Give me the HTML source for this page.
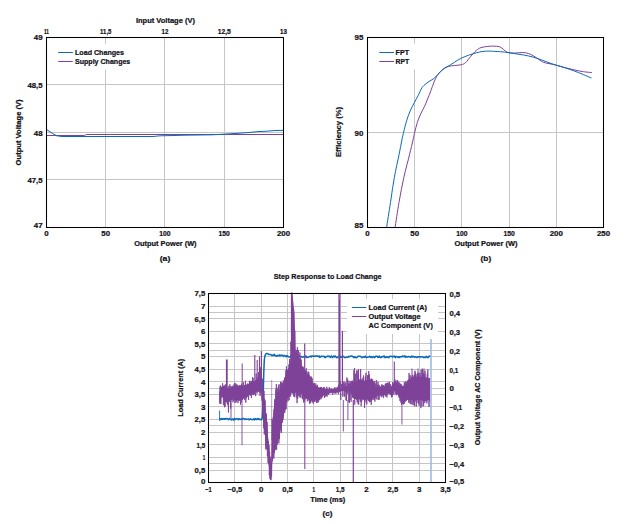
<!DOCTYPE html>
<html><head><meta charset="utf-8"><style>
html,body{margin:0;padding:0;background:#fff;width:628px;height:524px;overflow:hidden}
svg{display:block}
text{font-family:"Liberation Sans", sans-serif;font-weight:bold;fill:#111118;stroke:#111118;stroke-width:0.22px}
</style></head><body>
<svg width="628" height="524" viewBox="0 0 628 524">
<rect width="628" height="524" fill="#fff"/>
<line x1="105.50" y1="37.50" x2="105.50" y2="227.50" stroke="#c6c6ca" stroke-width="1.0"/>
<line x1="164.50" y1="37.50" x2="164.50" y2="227.50" stroke="#c6c6ca" stroke-width="1.0"/>
<line x1="224.50" y1="37.50" x2="224.50" y2="227.50" stroke="#c6c6ca" stroke-width="1.0"/>
<line x1="46.50" y1="84.50" x2="283.50" y2="84.50" stroke="#c6c6ca" stroke-width="1.0"/>
<line x1="46.50" y1="132.50" x2="283.50" y2="132.50" stroke="#c6c6ca" stroke-width="1.0"/>
<line x1="46.50" y1="179.50" x2="283.50" y2="179.50" stroke="#c6c6ca" stroke-width="1.0"/>
<rect x="52" y="43.7" width="82" height="25.8" fill="#fff"/>
<path d="M46.80 135.50 L84.30 135.50 L86.30 134.50 L283.00 134.50" fill="none" stroke="#7e4299" stroke-width="1.0" stroke-linejoin="round" />
<path d="M46.80 129.70 L52.90 133.60 L56.70 135.80 L62.00 136.50 L153.00 136.50 L160.00 135.80 L174.00 135.50 L185.00 135.20 L212.00 134.80 L220.00 134.40 L237.00 133.40 L250.00 132.40 L258.00 131.60 L267.00 131.20 L275.00 130.50 L283.00 130.40" fill="none" stroke="#0a6ab8" stroke-width="1.0" stroke-linejoin="round" />
<rect x="46.5" y="37.5" width="237.0" height="190.0" fill="none" stroke="#000" stroke-width="1.05"/>
<line x1="58.20" y1="52.50" x2="72.80" y2="52.50" stroke="#0a6ab8" stroke-width="1.0"/>
<line x1="58.20" y1="61.50" x2="72.80" y2="61.50" stroke="#7e4299" stroke-width="1.0"/>
<text x="75.00" y="55.00" font-size="7.2" text-anchor="start" textLength="49.00" lengthAdjust="spacingAndGlyphs">Load Changes</text>
<text x="75.00" y="64.00" font-size="7.2" text-anchor="start" textLength="55.30" lengthAdjust="spacingAndGlyphs">Supply Changes</text>
<text x="42.60" y="40.20" font-size="7.8" text-anchor="end" textLength="8.80" lengthAdjust="spacingAndGlyphs">49</text>
<text x="42.60" y="88.00" font-size="7.8" text-anchor="end" textLength="15.10" lengthAdjust="spacingAndGlyphs">48,5</text>
<text x="42.60" y="135.50" font-size="7.8" text-anchor="end" textLength="8.80" lengthAdjust="spacingAndGlyphs">48</text>
<text x="42.60" y="183.30" font-size="7.8" text-anchor="end" textLength="15.10" lengthAdjust="spacingAndGlyphs">47,5</text>
<text x="42.60" y="228.30" font-size="7.8" text-anchor="end" textLength="8.80" lengthAdjust="spacingAndGlyphs">47</text>
<text x="46.50" y="236.40" font-size="7.8" text-anchor="middle" textLength="4.40" lengthAdjust="spacingAndGlyphs">0</text>
<text x="105.75" y="236.40" font-size="7.8" text-anchor="middle" textLength="8.80" lengthAdjust="spacingAndGlyphs">50</text>
<text x="165.00" y="236.40" font-size="7.8" text-anchor="middle" textLength="11.30" lengthAdjust="spacingAndGlyphs">100</text>
<text x="224.25" y="236.40" font-size="7.8" text-anchor="middle" textLength="11.30" lengthAdjust="spacingAndGlyphs">150</text>
<text x="283.50" y="236.40" font-size="7.8" text-anchor="middle" textLength="13.20" lengthAdjust="spacingAndGlyphs">200</text>
<text x="46.50" y="34.40" font-size="7.8" text-anchor="middle" textLength="5.00" lengthAdjust="spacingAndGlyphs">11</text>
<text x="105.75" y="34.40" font-size="7.8" text-anchor="middle" textLength="11.30" lengthAdjust="spacingAndGlyphs">11,5</text>
<text x="165.00" y="34.40" font-size="7.8" text-anchor="middle" textLength="6.90" lengthAdjust="spacingAndGlyphs">12</text>
<text x="224.25" y="34.40" font-size="7.8" text-anchor="middle" textLength="13.20" lengthAdjust="spacingAndGlyphs">12,5</text>
<text x="283.50" y="34.40" font-size="7.8" text-anchor="middle" textLength="6.90" lengthAdjust="spacingAndGlyphs">13</text>
<text x="165.40" y="23.10" font-size="7.4" text-anchor="middle" textLength="59.00" lengthAdjust="spacingAndGlyphs">Input Voltage (V)</text>
<text x="165.40" y="246.20" font-size="7.4" text-anchor="middle" textLength="62.40" lengthAdjust="spacingAndGlyphs">Output Power (W)</text>
<text x="165.00" y="261.20" font-size="7.4" text-anchor="middle" textLength="10.60" lengthAdjust="spacingAndGlyphs">(a)</text>
<text x="20.60" y="132.40" font-size="7.4" text-anchor="middle" textLength="66.00" lengthAdjust="spacingAndGlyphs" transform="rotate(-90 20.60 132.40)">Output Voltage (V)</text>
<line x1="414.50" y1="37.50" x2="414.50" y2="227.50" stroke="#c6c6ca" stroke-width="1.0"/>
<line x1="461.50" y1="37.50" x2="461.50" y2="227.50" stroke="#c6c6ca" stroke-width="1.0"/>
<line x1="509.50" y1="37.50" x2="509.50" y2="227.50" stroke="#c6c6ca" stroke-width="1.0"/>
<line x1="556.50" y1="37.50" x2="556.50" y2="227.50" stroke="#c6c6ca" stroke-width="1.0"/>
<line x1="367.50" y1="132.50" x2="603.50" y2="132.50" stroke="#c6c6ca" stroke-width="1.0"/>
<rect x="374" y="43.6" width="48" height="25.8" fill="#fff"/>
<clipPath id="cb"><rect x="367.5" y="37.5" width="236.0" height="190.0"/></clipPath>
<g clip-path="url(#cb)">
<path d="M395.00 228.00 C395.67 223.73 397.53 210.80 399.00 202.40 C400.47 194.00 402.05 185.53 403.80 177.60 C405.55 169.67 407.97 161.07 409.50 154.80 C411.03 148.53 412.13 143.75 413.00 140.00 C413.87 136.25 413.98 135.22 414.70 132.30 C415.42 129.38 416.30 125.57 417.30 122.50 C418.30 119.43 419.48 116.62 420.70 113.90 C421.92 111.18 423.52 108.52 424.60 106.20 C425.68 103.88 426.17 102.55 427.20 100.00 C428.23 97.45 429.67 93.88 430.80 90.90 C431.93 87.92 432.93 84.65 434.00 82.10 C435.07 79.55 436.12 77.35 437.20 75.60 C438.28 73.85 439.28 72.80 440.50 71.60 C441.72 70.40 443.17 69.27 444.50 68.40 C445.83 67.53 446.87 66.88 448.50 66.40 C450.13 65.92 452.13 65.78 454.30 65.50 C456.47 65.22 459.58 65.22 461.50 64.70 C463.42 64.18 464.28 63.75 465.80 62.40 C467.32 61.05 468.85 58.60 470.60 56.60 C472.35 54.60 474.55 51.90 476.30 50.40 C478.05 48.90 479.18 48.27 481.10 47.60 C483.02 46.93 485.73 46.65 487.80 46.40 C489.87 46.15 491.50 46.03 493.50 46.10 C495.50 46.17 498.12 46.23 499.80 46.80 C501.48 47.37 502.33 48.58 503.60 49.50 C504.87 50.42 505.65 51.70 507.40 52.30 C509.15 52.90 511.55 53.07 514.10 53.10 C516.65 53.13 520.32 52.43 522.70 52.50 C525.08 52.57 526.65 52.97 528.40 53.50 C530.15 54.03 531.45 54.70 533.20 55.70 C534.95 56.70 537.15 58.38 538.90 59.50 C540.65 60.62 541.85 61.68 543.70 62.40 C545.55 63.12 547.83 63.32 550.00 63.80 C552.17 64.28 554.32 64.70 556.70 65.30 C559.08 65.90 561.43 66.65 564.30 67.40 C567.17 68.15 570.72 69.08 573.90 69.80 C577.08 70.52 580.47 71.25 583.40 71.70 C586.33 72.15 590.15 72.37 591.50 72.50" fill="none" stroke="#7e4299" stroke-width="1.0" stroke-linejoin="round" stroke-linecap="round" />
<path d="M386.50 228.00 C387.17 223.73 389.20 210.80 390.50 202.40 C391.80 194.00 392.88 185.53 394.30 177.60 C395.72 169.67 397.73 161.07 399.00 154.80 C400.27 148.53 401.13 143.75 401.90 140.00 C402.67 136.25 402.82 135.50 403.60 132.30 C404.38 129.10 405.53 124.30 406.60 120.80 C407.67 117.30 408.72 114.32 410.00 111.30 C411.28 108.28 412.92 105.38 414.30 102.70 C415.68 100.02 417.02 97.70 418.30 95.20 C419.58 92.70 420.72 89.62 422.00 87.70 C423.28 85.78 424.67 84.83 426.00 83.70 C427.33 82.57 428.67 81.78 430.00 80.90 C431.33 80.02 432.67 79.48 434.00 78.40 C435.33 77.32 436.65 75.80 438.00 74.40 C439.35 73.00 440.75 71.20 442.10 70.00 C443.45 68.80 444.78 68.00 446.10 67.20 C447.42 66.40 448.63 66.02 450.00 65.20 C451.37 64.38 452.38 63.48 454.30 62.30 C456.22 61.12 459.10 59.28 461.50 58.10 C463.90 56.92 466.23 56.08 468.70 55.20 C471.17 54.32 473.92 53.43 476.30 52.80 C478.68 52.17 480.77 51.68 483.00 51.40 C485.23 51.12 487.70 51.10 489.70 51.10 C491.70 51.10 492.52 51.23 495.00 51.40 C497.48 51.57 501.42 51.75 504.60 52.10 C507.78 52.45 510.92 53.02 514.10 53.50 C517.28 53.98 520.52 54.40 523.70 55.00 C526.88 55.60 530.02 56.20 533.20 57.10 C536.38 58.00 540.00 59.40 542.80 60.40 C545.60 61.40 547.68 62.28 550.00 63.10 C552.32 63.92 554.32 64.55 556.70 65.30 C559.08 66.05 561.43 66.68 564.30 67.60 C567.17 68.52 570.72 69.63 573.90 70.80 C577.08 71.97 580.53 73.42 583.40 74.60 C586.27 75.78 589.82 77.35 591.10 77.90" fill="none" stroke="#0a6ab8" stroke-width="1.0" stroke-linejoin="round" stroke-linecap="round" />
</g>
<rect x="367.5" y="37.5" width="236.0" height="190.0" fill="none" stroke="#000" stroke-width="1.05"/>
<line x1="379.30" y1="52.50" x2="394.00" y2="52.50" stroke="#0a6ab8" stroke-width="1.0"/>
<line x1="379.30" y1="61.50" x2="394.00" y2="61.50" stroke="#7e4299" stroke-width="1.0"/>
<text x="395.60" y="55.10" font-size="7.2" text-anchor="start" textLength="13.40" lengthAdjust="spacingAndGlyphs">FPT</text>
<text x="395.60" y="63.80" font-size="7.2" text-anchor="start" textLength="13.70" lengthAdjust="spacingAndGlyphs">RPT</text>
<text x="363.40" y="40.20" font-size="7.8" text-anchor="end" textLength="8.80" lengthAdjust="spacingAndGlyphs">95</text>
<text x="363.40" y="135.70" font-size="7.8" text-anchor="end" textLength="8.80" lengthAdjust="spacingAndGlyphs">90</text>
<text x="363.40" y="228.30" font-size="7.8" text-anchor="end" textLength="8.80" lengthAdjust="spacingAndGlyphs">85</text>
<text x="367.50" y="236.40" font-size="7.8" text-anchor="middle" textLength="4.40" lengthAdjust="spacingAndGlyphs">0</text>
<text x="414.70" y="236.40" font-size="7.8" text-anchor="middle" textLength="8.80" lengthAdjust="spacingAndGlyphs">50</text>
<text x="461.90" y="236.40" font-size="7.8" text-anchor="middle" textLength="11.30" lengthAdjust="spacingAndGlyphs">100</text>
<text x="509.10" y="236.40" font-size="7.8" text-anchor="middle" textLength="11.30" lengthAdjust="spacingAndGlyphs">150</text>
<text x="556.30" y="236.40" font-size="7.8" text-anchor="middle" textLength="13.20" lengthAdjust="spacingAndGlyphs">200</text>
<text x="603.50" y="236.40" font-size="7.8" text-anchor="middle" textLength="13.20" lengthAdjust="spacingAndGlyphs">250</text>
<text x="486.00" y="246.20" font-size="7.4" text-anchor="middle" textLength="62.90" lengthAdjust="spacingAndGlyphs">Output Power (W)</text>
<text x="485.90" y="261.20" font-size="7.4" text-anchor="middle" textLength="10.60" lengthAdjust="spacingAndGlyphs">(b)</text>
<text x="341.30" y="132.00" font-size="7.4" text-anchor="middle" textLength="50.00" lengthAdjust="spacingAndGlyphs" transform="rotate(-90 341.30 132.00)">Efficiency (%)</text>
<line x1="234.50" y1="293.50" x2="234.50" y2="482.50" stroke="#c6c6ca" stroke-width="1.0"/>
<line x1="261.50" y1="293.50" x2="261.50" y2="482.50" stroke="#c6c6ca" stroke-width="1.0"/>
<line x1="287.50" y1="293.50" x2="287.50" y2="482.50" stroke="#c6c6ca" stroke-width="1.0"/>
<line x1="313.50" y1="293.50" x2="313.50" y2="482.50" stroke="#c6c6ca" stroke-width="1.0"/>
<line x1="340.50" y1="293.50" x2="340.50" y2="482.50" stroke="#c6c6ca" stroke-width="1.0"/>
<line x1="366.50" y1="293.50" x2="366.50" y2="482.50" stroke="#c6c6ca" stroke-width="1.0"/>
<line x1="392.50" y1="293.50" x2="392.50" y2="482.50" stroke="#c6c6ca" stroke-width="1.0"/>
<line x1="419.50" y1="293.50" x2="419.50" y2="482.50" stroke="#c6c6ca" stroke-width="1.0"/>
<line x1="208.50" y1="470.50" x2="445.50" y2="470.50" stroke="#c6c6ca" stroke-width="1.0"/>
<line x1="208.50" y1="457.50" x2="445.50" y2="457.50" stroke="#c6c6ca" stroke-width="1.0"/>
<line x1="208.50" y1="444.50" x2="445.50" y2="444.50" stroke="#c6c6ca" stroke-width="1.0"/>
<line x1="208.50" y1="432.50" x2="445.50" y2="432.50" stroke="#c6c6ca" stroke-width="1.0"/>
<line x1="208.50" y1="419.50" x2="445.50" y2="419.50" stroke="#c6c6ca" stroke-width="1.0"/>
<line x1="208.50" y1="406.50" x2="445.50" y2="406.50" stroke="#c6c6ca" stroke-width="1.0"/>
<line x1="208.50" y1="394.50" x2="445.50" y2="394.50" stroke="#c6c6ca" stroke-width="1.0"/>
<line x1="208.50" y1="381.50" x2="445.50" y2="381.50" stroke="#c6c6ca" stroke-width="1.0"/>
<line x1="208.50" y1="369.50" x2="445.50" y2="369.50" stroke="#c6c6ca" stroke-width="1.0"/>
<line x1="208.50" y1="356.50" x2="445.50" y2="356.50" stroke="#c6c6ca" stroke-width="1.0"/>
<line x1="208.50" y1="343.50" x2="445.50" y2="343.50" stroke="#c6c6ca" stroke-width="1.0"/>
<line x1="208.50" y1="331.50" x2="445.50" y2="331.50" stroke="#c6c6ca" stroke-width="1.0"/>
<line x1="208.50" y1="318.50" x2="445.50" y2="318.50" stroke="#c6c6ca" stroke-width="1.0"/>
<line x1="208.50" y1="306.50" x2="445.50" y2="306.50" stroke="#c6c6ca" stroke-width="1.0"/>
<line x1="208.50" y1="463.50" x2="445.50" y2="463.50" stroke="#c6c6ca" stroke-width="1.0"/>
<line x1="208.50" y1="444.50" x2="445.50" y2="444.50" stroke="#c6c6ca" stroke-width="1.0"/>
<line x1="208.50" y1="425.50" x2="445.50" y2="425.50" stroke="#c6c6ca" stroke-width="1.0"/>
<line x1="208.50" y1="406.50" x2="445.50" y2="406.50" stroke="#c6c6ca" stroke-width="1.0"/>
<line x1="208.50" y1="388.50" x2="445.50" y2="388.50" stroke="#c6c6ca" stroke-width="1.0"/>
<line x1="208.50" y1="369.50" x2="445.50" y2="369.50" stroke="#c6c6ca" stroke-width="1.0"/>
<line x1="208.50" y1="350.50" x2="445.50" y2="350.50" stroke="#c6c6ca" stroke-width="1.0"/>
<line x1="208.50" y1="331.50" x2="445.50" y2="331.50" stroke="#c6c6ca" stroke-width="1.0"/>
<line x1="208.50" y1="312.50" x2="445.50" y2="312.50" stroke="#c6c6ca" stroke-width="1.0"/>
<rect x="347" y="299" width="91" height="35" fill="#fff"/>
<path d="M219.50 418.92 L220.20 418.64 L220.90 419.44 L221.60 418.52 L222.30 419.26 L223.00 418.99 L223.70 418.49 L224.40 419.21 L225.10 418.46 L225.80 419.09 L226.50 418.51 L227.20 418.55 L227.90 419.08 L228.60 419.72 L229.30 418.60 L230.00 418.76 L230.70 419.40 L231.40 419.92 L232.10 419.32 L232.80 419.03 L233.50 419.96 L234.20 418.47 L234.90 419.77 L235.60 418.86 L236.30 418.63 L237.00 418.59 L237.70 418.89 L238.40 419.71 L239.10 418.69 L239.80 419.33 L240.50 419.42 L241.20 419.00 L241.90 419.28 L242.60 418.50 L243.30 418.50 L244.00 418.73 L244.70 419.49 L245.40 419.08 L246.10 418.90 L246.80 419.34 L247.50 419.13 L248.20 418.88 L248.90 419.67 L249.60 419.52 L250.30 418.79 L251.00 419.32 L251.70 419.24 L252.40 419.80 L253.10 419.57 L253.80 418.86 L254.50 419.97 L255.20 418.59 L255.90 419.07 L256.60 419.61 L257.30 418.64 L258.00 419.18 L258.70 418.46 L259.40 419.47 L260.10 419.62 L260.80 419.32 L261.50 419.80 L262.20 418.50 L262.80 410.00 L263.30 390.00 L263.80 372.00 L264.30 360.00 L265.00 355.50 L266.00 353.80 L267.00 353.40 L268.00 353.68 L268.70 354.53 L269.40 354.49 L270.10 354.61 L270.80 354.52 L271.50 355.33 L272.20 355.64 L272.90 354.90 L273.60 355.35 L274.30 354.36 L275.00 355.61 L275.70 355.60 L276.40 356.31 L277.10 356.08 L277.80 355.18 L278.50 355.43 L279.20 356.01 L279.90 354.91 L280.60 355.76 L281.30 355.28 L282.00 355.24 L282.70 355.19 L283.40 356.51 L284.10 355.41 L284.80 355.66 L285.50 355.96 L286.20 356.86 L286.90 355.47 L287.60 356.16 L288.30 356.38 L289.00 357.01 L289.70 356.92 L290.40 357.02 L291.10 356.00 L291.80 356.26 L292.50 356.18 L293.20 357.15 L293.90 357.30 L294.60 355.87 L295.30 355.93 L296.00 356.05 L296.70 356.07 L297.40 356.53 L298.10 356.73 L298.80 356.16 L299.50 355.71 L300.20 356.46 L300.90 356.39 L301.60 356.75 L302.30 357.46 L303.00 356.99 L303.70 356.69 L304.40 356.88 L305.10 356.99 L305.80 355.88 L306.50 357.41 L307.20 357.20 L307.90 357.37 L308.60 357.24 L309.30 356.52 L310.00 356.53 L310.70 356.01 L311.40 356.97 L312.10 355.94 L312.80 355.95 L313.50 356.21 L314.20 356.13 L314.90 356.46 L315.60 355.94 L316.30 355.85 L317.00 356.13 L317.70 356.04 L318.40 356.51 L319.10 355.91 L319.80 357.44 L320.50 356.97 L321.20 356.13 L321.90 356.32 L322.60 356.50 L323.30 356.53 L324.00 356.09 L324.70 357.40 L325.40 357.66 L326.10 356.72 L326.80 356.75 L327.50 356.04 L328.20 356.07 L328.90 356.50 L329.60 356.36 L330.30 357.38 L331.00 356.18 L331.70 355.93 L332.40 357.60 L333.10 356.84 L333.80 356.15 L334.50 356.87 L335.20 355.94 L335.90 356.84 L336.60 357.65 L337.30 357.45 L338.00 357.15 L338.70 356.36 L339.40 356.55 L340.10 356.19 L340.80 357.28 L341.50 356.85 L342.20 357.30 L342.90 356.49 L343.60 356.30 L344.30 357.36 L345.00 357.67 L345.70 357.43 L346.40 357.35 L347.10 357.37 L347.80 357.23 L348.50 356.30 L349.20 356.83 L349.90 356.54 L350.60 355.95 L351.30 355.95 L352.00 356.40 L352.70 356.36 L353.40 357.14 L354.10 357.62 L354.80 356.70 L355.50 357.58 L356.20 357.68 L356.90 357.62 L357.60 356.55 L358.30 356.30 L359.00 356.31 L359.70 356.25 L360.40 356.27 L361.10 357.02 L361.80 357.52 L362.50 357.41 L363.20 356.76 L363.90 357.07 L364.60 357.34 L365.30 356.05 L366.00 357.09 L366.70 357.54 L367.40 357.31 L368.10 357.25 L368.80 356.76 L369.50 356.22 L370.20 357.32 L370.90 356.50 L371.60 357.34 L372.30 357.65 L373.00 356.61 L373.70 356.62 L374.40 357.60 L375.10 357.20 L375.80 356.21 L376.50 356.13 L377.20 356.17 L377.90 357.53 L378.60 357.35 L379.30 356.16 L380.00 357.39 L380.70 357.66 L381.40 357.08 L382.10 356.53 L382.80 356.89 L383.50 356.14 L384.20 355.93 L384.90 357.65 L385.60 357.07 L386.30 356.85 L387.00 357.58 L387.70 356.68 L388.40 357.47 L389.10 357.39 L389.80 356.28 L390.50 356.35 L391.20 356.43 L391.90 356.33 L392.60 356.96 L393.30 356.37 L394.00 356.65 L394.70 356.14 L395.40 357.54 L396.10 356.54 L396.80 356.72 L397.50 356.95 L398.20 357.53 L398.90 356.66 L399.60 357.55 L400.30 356.80 L401.00 356.86 L401.70 356.84 L402.40 355.93 L403.10 356.69 L403.80 356.23 L404.50 355.91 L405.20 357.34 L405.90 356.21 L406.60 356.75 L407.30 357.21 L408.00 356.90 L408.70 356.49 L409.40 356.83 L410.10 356.90 L410.80 357.31 L411.50 356.09 L412.20 356.91 L412.90 356.35 L413.60 356.40 L414.30 357.29 L415.00 356.81 L415.70 356.91 L416.40 357.27 L417.10 357.54 L417.80 356.70 L418.50 357.00 L419.20 356.81 L419.90 356.82 L420.60 357.15 L421.30 356.71 L422.00 356.86 L422.70 356.76 L423.40 357.59 L424.10 357.16 L424.80 357.48 L425.50 357.60 L426.20 356.37 L426.90 356.91 L427.60 357.60 L428.30 357.41 L429.00 356.15 L429.70 356.12 L430.40 356.70" fill="none" stroke="#0a6ab8" stroke-width="1.5" stroke-linejoin="round" />
<line x1="219.60" y1="410.50" x2="219.60" y2="421.00" stroke="#0a6ab8" stroke-width="0.9"/>
<path d="M219.50 391.37 L219.78 403.46 L220.06 386.36 L220.34 403.72 L220.62 385.54 L220.90 403.79 L221.18 386.99 L221.46 396.97 L221.74 387.25 L222.02 396.10 L222.30 388.66 L222.58 383.28 L222.86 395.16 L223.14 388.99 L223.42 405.18 L223.70 385.70 L223.98 400.06 L224.26 385.71 L224.54 407.29 L224.82 385.72 L225.10 406.54 L225.38 384.33 L225.66 401.78 L225.94 389.43 L226.22 401.32 L226.50 386.73 L226.78 401.83 L227.06 392.91 L227.34 403.97 L227.62 387.90 L227.90 405.21 L228.18 388.17 L228.46 412.60 L228.74 385.90 L229.02 399.70 L229.30 387.50 L229.58 398.79 L229.86 384.28 L230.14 400.47 L230.42 388.28 L230.70 408.61 L230.98 386.09 L231.26 395.41 L231.54 386.76 L231.82 396.00 L232.10 387.99 L232.38 398.49 L232.66 385.77 L232.94 402.27 L233.22 399.39 L233.50 400.61 L233.78 385.60 L234.06 384.31 L234.34 399.97 L234.62 382.75 L234.90 402.89 L235.18 386.21 L235.46 399.30 L235.74 383.42 L236.02 402.59 L236.30 384.68 L236.58 401.28 L236.86 384.89 L237.14 398.53 L237.42 384.75 L237.70 385.72 L237.98 403.11 L238.26 387.85 L238.54 401.02 L238.82 389.81 L239.10 400.71 L239.38 385.55 L239.66 400.45 L239.94 385.11 L240.22 387.66 L240.50 404.67 L240.78 387.38 L241.06 385.34 L241.34 402.44 L241.62 383.58 L241.90 385.78 L242.18 389.31 L242.46 399.96 L242.74 386.38 L243.02 396.81 L243.30 385.52 L243.58 382.16 L243.86 398.18 L244.14 398.98 L244.42 388.40 L244.70 400.11 L244.98 396.32 L245.26 385.48 L245.54 380.75 L245.82 402.65 L246.10 385.93 L246.38 398.24 L246.66 387.52 L246.94 384.68 L247.22 396.98 L247.50 396.41 L247.78 383.43 L248.06 393.87 L248.34 394.98 L248.62 399.92 L248.90 386.05 L249.18 393.37 L249.46 380.79 L249.74 394.78 L250.02 383.21 L250.30 395.77 L250.58 381.25 L250.86 383.53 L251.14 394.05 L251.42 397.93 L251.70 381.50 L251.98 380.76 L252.26 394.92 L252.54 377.10 L252.82 390.79 L253.10 378.02 L253.38 395.09 L253.66 383.00 L253.94 393.72 L254.22 382.57 L254.50 394.44 L254.78 380.53 L255.06 391.05 L255.34 381.30 L255.62 396.14 L255.90 391.15 L256.18 373.57 L256.46 391.27 L256.74 379.76 L257.02 393.45 L257.30 379.00 L257.58 392.08 L257.86 378.92 L258.14 377.23 L258.42 391.73 L258.70 371.95 L258.98 390.25 L259.26 373.43 L259.54 392.56 L259.82 381.43 L260.10 396.07 L260.38 367.24 L260.66 393.28 L260.94 376.65 L261.22 391.42 L261.50 378.42 L261.78 398.36 L262.06 400.79 L262.34 378.63 L262.62 410.32 L262.90 413.45 L263.18 417.39 L263.46 397.86 L263.74 428.35 L264.02 390.80 L264.30 434.43 L264.58 398.90 L264.86 422.11 L265.14 400.50 L265.42 412.00 L265.70 449.31 L265.98 414.32 L266.26 445.02 L266.54 413.60 L266.82 449.29 L267.10 421.91 L267.38 456.24 L267.66 438.90 L267.94 461.93 L268.22 463.15 L268.50 441.43 L268.78 464.26 L269.06 445.10 L269.34 475.44 L269.62 451.78 L269.90 478.82 L270.18 460.17 L270.46 479.71 L270.74 456.64 L271.02 480.13 L271.30 462.97 L271.58 476.56 L271.86 462.05 L272.14 418.67 L272.42 461.29 L272.70 455.81 L272.98 420.93 L273.26 452.95 L273.54 416.84 L273.82 458.57 L274.10 409.32 L274.38 449.58 L274.66 399.23 L274.94 449.36 L275.22 409.23 L275.50 449.31 L275.78 389.46 L276.06 445.75 L276.34 384.07 L276.62 449.78 L276.90 387.38 L277.18 444.70 L277.46 435.79 L277.74 388.79 L278.02 390.13 L278.30 432.78 L278.58 384.63 L278.86 443.48 L279.14 428.61 L279.42 439.09 L279.70 388.49 L279.98 384.15 L280.26 429.34 L280.54 381.74 L280.82 428.08 L281.10 394.97 L281.38 432.93 L281.66 382.37 L281.94 418.97 L282.22 382.80 L282.50 422.57 L282.78 383.30 L283.06 419.89 L283.34 380.47 L283.62 411.92 L283.90 388.21 L284.18 411.73 L284.46 378.35 L284.74 413.02 L285.02 377.24 L285.30 403.99 L285.58 410.15 L285.86 370.41 L286.14 409.03 L286.42 366.31 L286.70 402.67 L286.98 369.86 L287.26 399.01 L287.54 395.70 L287.82 377.42 L288.10 401.17 L288.38 369.58 L288.66 397.01 L288.94 364.33 L289.22 400.09 L289.50 359.00 L289.78 394.34 L290.06 394.11 L290.34 366.01 L290.62 396.56 L290.90 341.63 L291.18 391.00 L291.46 355.36 L291.74 393.38 L292.02 386.62 L292.30 363.27 L292.58 389.58 L292.86 329.51 L293.14 393.95 L293.42 326.21 L293.70 396.50 L293.98 394.83 L294.26 341.28 L294.54 397.10 L294.82 330.58 L295.10 388.29 L295.38 353.20 L295.66 385.41 L295.94 353.39 L296.22 397.36 L296.50 354.79 L296.78 382.64 L297.06 403.18 L297.34 347.26 L297.62 399.02 L297.90 360.06 L298.18 396.01 L298.46 350.07 L298.74 394.57 L299.02 359.78 L299.30 397.22 L299.58 388.44 L299.86 352.41 L300.14 396.20 L300.42 357.54 L300.70 397.99 L300.98 397.55 L301.26 359.64 L301.54 393.61 L301.82 369.64 L302.10 374.92 L302.38 398.42 L302.66 374.96 L302.94 399.38 L303.22 366.78 L303.50 402.45 L303.78 398.96 L304.06 395.96 L304.34 377.50 L304.62 401.94 L304.90 370.46 L305.18 399.64 L305.46 371.16 L305.74 396.01 L306.02 373.01 L306.30 368.25 L306.58 397.72 L306.86 371.76 L307.14 397.03 L307.42 401.31 L307.70 377.38 L307.98 393.82 L308.26 371.52 L308.54 399.04 L308.82 372.24 L309.10 401.22 L309.38 375.19 L309.66 403.96 L309.94 376.59 L310.22 403.06 L310.50 381.81 L310.78 402.63 L311.06 376.35 L311.34 401.05 L311.62 377.17 L311.90 397.19 L312.18 378.41 L312.46 402.25 L312.74 382.73 L313.02 385.30 L313.30 403.75 L313.58 385.85 L313.86 398.66 L314.14 383.07 L314.42 401.71 L314.70 383.12 L314.98 401.77 L315.26 387.47 L315.54 396.03 L315.82 383.62 L316.10 401.01 L316.38 386.00 L316.66 402.90 L316.94 385.81 L317.22 402.82 L317.50 384.88 L317.78 400.62 L318.06 389.03 L318.34 402.29 L318.62 387.83 L318.90 399.59 L319.18 387.39 L319.46 400.24 L319.74 388.66 L320.02 398.04 L320.30 396.41 L320.58 386.99 L320.86 399.37 L321.14 386.98 L321.42 398.11 L321.70 387.47 L321.98 395.15 L322.26 388.87 L322.54 397.25 L322.82 388.23 L323.10 389.04 L323.38 394.87 L323.66 387.04 L323.94 395.85 L324.22 387.25 L324.50 397.90 L324.78 388.73 L325.06 396.91 L325.34 394.32 L325.62 389.42 L325.90 395.67 L326.18 388.96 L326.46 395.67 L326.74 386.79 L327.02 396.76 L327.30 388.74 L327.58 391.91 L327.86 394.48 L328.14 389.70 L328.42 392.92 L328.70 394.65 L328.98 394.53 L329.26 387.31 L329.54 393.07 L329.82 388.28 L330.10 389.06 L330.38 392.58 L330.66 389.46 L330.94 393.31 L331.22 392.71 L331.50 388.48 L331.78 392.72 L332.06 392.45 L332.34 389.29 L332.62 394.91 L332.90 393.04 L333.18 392.36 L333.46 388.77 L333.74 392.86 L334.02 389.31 L334.30 393.29 L334.58 387.45 L334.86 392.20 L335.14 393.55 L335.42 389.25 L335.70 393.39 L335.98 387.43 L336.26 391.58 L336.54 388.93 L336.82 393.33 L337.10 393.07 L337.38 387.19 L337.66 391.99 L337.94 386.68 L338.22 391.86 L338.50 394.09 L338.78 384.67 L339.06 392.16 L339.34 387.08 L339.62 388.45 L339.90 391.98 L340.18 380.95 L340.46 392.86 L340.74 400.02 L341.02 387.85 L341.30 390.25 L341.58 384.13 L341.86 387.40 L342.14 391.07 L342.42 382.87 L342.70 396.74 L342.98 395.12 L343.26 382.43 L343.54 386.21 L343.82 389.52 L344.10 381.41 L344.38 396.66 L344.66 392.87 L344.94 383.74 L345.22 391.81 L345.50 382.47 L345.78 393.77 L346.06 400.26 L346.34 385.99 L346.62 400.83 L346.90 377.44 L347.18 392.59 L347.46 393.66 L347.74 379.42 L348.02 390.88 L348.30 383.45 L348.58 386.17 L348.86 402.22 L349.14 380.92 L349.42 403.01 L349.70 384.13 L349.98 399.97 L350.26 383.52 L350.54 392.25 L350.82 381.15 L351.10 401.77 L351.38 381.41 L351.66 382.61 L351.94 393.81 L352.22 380.37 L352.50 397.47 L352.78 381.82 L353.06 397.68 L353.34 382.27 L353.62 394.58 L353.90 369.97 L354.18 398.85 L354.46 378.05 L354.74 404.67 L355.02 384.27 L355.30 394.25 L355.58 373.74 L355.86 377.04 L356.14 396.44 L356.42 399.75 L356.70 370.50 L356.98 397.27 L357.26 402.32 L357.54 381.58 L357.82 370.42 L358.10 403.78 L358.38 375.23 L358.66 404.66 L358.94 379.34 L359.22 398.08 L359.50 380.68 L359.78 396.38 L360.06 379.32 L360.34 401.70 L360.62 368.99 L360.90 380.73 L361.18 406.18 L361.46 379.53 L361.74 401.51 L362.02 385.06 L362.30 397.88 L362.58 399.21 L362.86 377.90 L363.14 399.52 L363.42 375.41 L363.70 378.42 L363.98 399.53 L364.26 382.42 L364.54 408.01 L364.82 397.83 L365.10 400.75 L365.38 376.64 L365.66 396.76 L365.94 372.79 L366.22 402.82 L366.50 380.41 L366.78 404.47 L367.06 384.82 L367.34 399.22 L367.62 375.24 L367.90 399.10 L368.18 375.38 L368.46 400.98 L368.74 371.11 L369.02 401.18 L369.30 374.44 L369.58 402.27 L369.86 379.15 L370.14 399.99 L370.42 380.11 L370.70 401.73 L370.98 378.71 L371.26 404.84 L371.54 378.72 L371.82 400.22 L372.10 385.03 L372.38 396.67 L372.66 379.08 L372.94 400.00 L373.22 381.00 L373.50 382.21 L373.78 398.48 L374.06 384.62 L374.34 400.00 L374.62 381.31 L374.90 401.57 L375.18 383.44 L375.46 398.21 L375.74 386.93 L376.02 398.00 L376.30 380.01 L376.58 395.80 L376.86 399.43 L377.14 384.61 L377.42 395.42 L377.70 388.67 L377.98 381.70 L378.26 399.73 L378.54 395.82 L378.82 384.61 L379.10 399.89 L379.38 385.41 L379.66 387.18 L379.94 395.55 L380.22 395.64 L380.50 386.54 L380.78 394.50 L381.06 387.42 L381.34 397.16 L381.62 384.54 L381.90 397.06 L382.18 384.69 L382.46 394.03 L382.74 385.88 L383.02 395.80 L383.30 385.09 L383.58 397.90 L383.86 388.62 L384.14 387.61 L384.42 395.19 L384.70 385.77 L384.98 393.27 L385.26 384.05 L385.54 396.35 L385.82 383.31 L386.10 396.26 L386.38 393.88 L386.66 383.39 L386.94 397.37 L387.22 382.67 L387.50 393.66 L387.78 384.35 L388.06 394.22 L388.34 382.55 L388.62 393.08 L388.90 386.58 L389.18 393.92 L389.46 381.88 L389.74 386.77 L390.02 388.62 L390.30 394.97 L390.58 384.16 L390.86 394.68 L391.14 385.84 L391.42 397.44 L391.70 387.10 L391.98 394.68 L392.26 396.99 L392.54 382.20 L392.82 394.38 L393.10 383.09 L393.38 391.59 L393.66 394.65 L393.94 394.79 L394.22 382.01 L394.50 389.95 L394.78 379.08 L395.06 380.55 L395.34 393.35 L395.62 382.72 L395.90 394.30 L396.18 380.58 L396.46 395.27 L396.74 394.82 L397.02 382.47 L397.30 392.48 L397.58 380.07 L397.86 391.05 L398.14 383.42 L398.42 394.80 L398.70 381.86 L398.98 397.54 L399.26 382.79 L399.54 384.61 L399.82 399.73 L400.10 401.03 L400.38 385.19 L400.66 383.65 L400.94 402.68 L401.22 384.28 L401.50 404.80 L401.78 388.39 L402.06 385.81 L402.34 404.01 L402.62 389.21 L402.90 401.31 L403.18 387.58 L403.46 404.30 L403.74 387.99 L404.02 404.11 L404.30 382.05 L404.58 403.05 L404.86 384.24 L405.14 386.21 L405.42 401.48 L405.70 381.34 L405.98 401.03 L406.26 383.99 L406.54 400.64 L406.82 381.98 L407.10 399.70 L407.38 380.65 L407.66 398.64 L407.94 380.73 L408.22 398.18 L408.50 379.69 L408.78 402.70 L409.06 372.96 L409.34 394.02 L409.62 377.92 L409.90 403.37 L410.18 375.17 L410.46 395.88 L410.74 404.17 L411.02 382.27 L411.30 399.44 L411.58 376.59 L411.86 404.36 L412.14 377.95 L412.42 390.89 L412.70 374.59 L412.98 404.86 L413.26 381.87 L413.54 402.82 L413.82 376.40 L414.10 405.34 L414.38 374.90 L414.66 406.36 L414.94 370.70 L415.22 401.34 L415.50 372.62 L415.78 397.02 L416.06 374.12 L416.34 406.65 L416.62 382.84 L416.90 397.90 L417.18 375.83 L417.46 397.74 L417.74 372.87 L418.02 402.96 L418.30 376.01 L418.58 403.61 L418.86 372.60 L419.14 405.90 L419.42 377.68 L419.70 397.83 L419.98 373.22 L420.26 400.32 L420.54 382.53 L420.82 408.12 L421.10 369.71 L421.38 399.88 L421.66 376.66 L421.94 406.53 L422.22 368.57 L422.50 396.24 L422.78 369.92 L423.06 401.15 L423.34 373.49 L423.62 406.14 L423.90 375.11 L424.18 401.22 L424.46 374.07 L424.74 402.99 L425.02 370.73 L425.30 375.57 L425.58 401.14 L425.86 377.20 L426.14 401.16 L426.42 379.31 L426.70 402.17 L426.98 403.45 L427.26 373.97 L427.54 400.24 L427.82 369.46 L428.10 400.08 L428.38 380.27 L428.66 400.15 L428.94 407.01 L429.22 406.00 L429.50 377.94 L429.78 400.45 L430.06 401.62" stroke="#7e4299" stroke-width="0.85" fill="none" stroke-linejoin="miter" stroke-miterlimit="1"/>
<path d="M219.80 388.34 L220.30 388.08 L220.80 387.82 L221.30 387.56 L221.80 387.30 L222.30 387.18 L222.80 387.14 L223.30 387.10 L223.80 387.06 L224.30 387.03 L224.80 386.99 L225.30 386.95 L225.80 386.91 L226.30 387.19 L226.80 387.66 L227.30 388.14 L227.80 388.61 L228.30 388.70 L228.80 388.54 L229.30 388.38 L229.80 388.22 L230.30 388.05 L230.80 387.89 L231.30 387.73 L231.80 387.56 L232.30 387.37 L232.80 387.16 L233.30 386.95 L233.80 386.74 L234.30 386.52 L234.80 386.31 L235.30 386.10 L235.80 385.88 L236.30 385.80 L236.80 385.79 L237.30 385.78 L237.80 385.77 L238.30 385.76 L238.80 385.75 L239.30 385.75 L239.80 385.74 L240.30 385.73 L240.80 385.72 L241.30 385.71 L241.80 385.70 L242.30 385.63 L242.80 385.51 L243.30 385.39 L243.80 385.27 L244.30 385.16 L244.80 385.04 L245.30 384.92 L245.80 384.80 L246.30 384.68 L246.80 384.57 L247.30 384.45 L247.80 384.24 L248.30 383.96 L248.80 383.69 L249.30 383.42 L249.80 383.15 L250.30 382.87 L250.80 382.60 L251.30 382.33 L251.80 382.05 L252.30 381.78 L252.80 381.51 L253.30 381.25 L253.80 381.01 L254.30 380.77 L254.80 380.53 L255.30 380.29 L255.80 380.05 L256.30 379.81 L256.80 379.56 L257.30 379.32 L257.80 379.08 L258.30 378.84 L258.80 378.60 L259.30 378.31 L259.80 377.99 L260.30 377.67 L260.80 377.35 L261.30 377.03 L261.80 377.50 L262.30 381.08 L262.80 386.38 L263.30 391.02 L263.80 395.22 L264.30 399.03 L264.80 402.58 L265.30 406.94 L265.80 411.84 L266.30 416.71 L266.80 421.56 L267.30 426.95 L267.80 432.70 L268.30 438.75 L268.80 445.00 L269.30 450.53 L269.80 455.58 L270.30 458.41 L270.80 459.76 L271.30 462.28 L271.80 434.05 L272.30 421.91 L272.80 417.26 L273.30 412.61 L273.80 407.96 L274.30 404.39 L274.80 401.54 L275.30 398.69 L275.80 395.84 L276.30 394.07 L276.80 393.02 L277.30 392.32 L277.80 391.85 L278.30 391.38 L278.80 390.89 L279.30 390.35 L279.80 389.81 L280.30 389.01 L280.80 388.04 L281.30 387.06 L281.80 386.09 L282.30 385.12 L282.80 384.14 L283.30 383.17 L283.80 382.20 L284.30 380.07 L284.80 377.95 L285.30 375.82 L285.80 374.13 L286.30 372.55 L286.80 370.97 L287.30 369.58 L287.80 369.00 L288.30 368.42 L288.80 367.83 L289.30 366.48 L289.80 364.61 L290.30 362.75 L290.80 354.98 L291.30 348.30 L291.80 344.98 L292.30 341.65 L292.80 338.33 L293.30 338.41 L293.80 340.76 L294.30 343.38 L294.80 346.17 L295.30 348.96 L295.80 351.39 L296.30 352.37 L296.80 353.34 L297.30 354.31 L297.80 355.34 L298.30 356.40 L298.80 357.46 L299.30 358.52 L299.80 359.58 L300.30 360.84 L300.80 362.24 L301.30 363.64 L301.80 365.04 L302.30 366.04 L302.80 366.76 L303.30 367.49 L303.80 368.21 L304.30 368.94 L304.80 369.66 L305.30 370.38 L305.80 371.11 L306.30 371.81 L306.80 372.50 L307.30 373.19 L307.80 373.88 L308.30 374.56 L308.80 375.25 L309.30 375.94 L309.80 376.63 L310.30 377.50 L310.80 378.50 L311.30 379.50 L311.80 380.50 L312.30 381.50 L312.80 382.50 L313.30 383.50 L313.80 384.50 L314.30 385.09 L314.80 385.40 L315.30 385.71 L315.80 386.03 L316.30 386.34 L316.80 386.65 L317.30 386.96 L317.80 387.28 L318.30 387.48 L318.80 387.62 L319.30 387.76 L319.80 387.90 L320.30 388.04 L320.80 388.18 L321.30 388.32 L321.80 388.46 L322.30 388.60 L322.80 388.74 L323.30 388.83 L323.80 388.87 L324.30 388.91 L324.80 388.95 L325.30 389.00 L325.80 389.04 L326.30 389.08 L326.80 389.13 L327.30 389.17 L327.80 389.21 L328.30 389.25 L328.80 389.30 L329.30 389.34 L329.80 389.38 L330.30 389.40 L330.80 389.39 L331.30 389.38 L331.80 389.37 L332.30 389.37 L332.80 389.36 L333.30 389.35 L333.80 389.35 L334.30 389.34 L334.80 389.33 L335.30 389.32 L335.80 389.32 L336.30 389.31 L336.80 389.30 L337.30 389.21 L337.80 389.06 L338.30 388.91 L338.80 388.76 L339.30 388.61 L339.80 388.46 L340.30 388.30 L340.80 388.13 L341.30 387.97 L341.80 387.80 L342.30 387.63 L342.80 387.47 L343.30 387.32 L343.80 387.19 L344.30 387.05 L344.80 386.92 L345.30 386.79 L345.80 386.65 L346.30 386.60 L346.80 386.60 L347.30 386.60 L347.80 386.60 L348.30 386.60 L348.80 386.60 L349.30 386.60 L349.80 386.60 L350.30 386.26 L350.80 385.70 L351.30 385.14 L351.80 384.57 L352.30 384.01 L352.80 383.45 L353.30 382.89 L353.80 382.32 L354.30 382.01 L354.80 381.87 L355.30 381.73 L355.80 381.59 L356.30 381.45 L356.80 381.31 L357.30 381.17 L357.80 381.02 L358.30 380.88 L358.80 380.74 L359.30 380.60 L359.80 380.46 L360.30 380.40 L360.80 380.40 L361.30 380.40 L361.80 380.40 L362.30 380.40 L362.80 380.40 L363.30 380.40 L363.80 380.40 L364.30 380.40 L364.80 380.40 L365.30 380.40 L365.80 380.40 L366.30 380.40 L366.80 380.40 L367.30 380.40 L367.80 380.40 L368.30 380.50 L368.80 380.68 L369.30 380.85 L369.80 381.03 L370.30 381.20 L370.80 381.37 L371.30 381.55 L371.80 381.72 L372.30 381.90 L372.80 382.30 L373.30 383.05 L373.80 383.80 L374.30 384.55 L374.80 385.30 L375.30 386.05 L375.80 386.80 L376.30 387.10 L376.80 387.09 L377.30 387.08 L377.80 387.07 L378.30 387.06 L378.80 387.05 L379.30 387.05 L379.80 387.04 L380.30 387.03 L380.80 387.02 L381.30 387.01 L381.80 387.00 L382.30 386.99 L382.80 386.96 L383.30 386.94 L383.80 386.91 L384.30 386.88 L384.80 386.86 L385.30 386.83 L385.80 386.81 L386.30 386.80 L386.80 386.80 L387.30 386.80 L387.80 386.80 L388.30 386.80 L388.80 386.80 L389.30 386.80 L389.80 386.80 L390.30 386.80 L390.80 386.80 L391.30 386.80 L391.80 386.80 L392.30 386.24 L392.80 385.31 L393.30 384.37 L393.80 383.44 L394.30 382.51 L394.80 381.57 L395.30 381.51 L395.80 382.04 L396.30 382.56 L396.80 383.09 L397.30 383.62 L397.80 384.14 L398.30 384.66 L398.80 385.19 L399.30 385.47 L399.80 385.59 L400.30 385.70 L400.80 385.82 L401.30 385.94 L401.80 386.05 L402.30 386.01 L402.80 385.86 L403.30 385.71 L403.80 385.56 L404.30 385.41 L404.80 385.26 L405.30 385.11 L405.80 384.96 L406.30 384.36 L406.80 383.46 L407.30 382.56 L407.80 381.66 L408.30 381.04 L408.80 380.60 L409.30 380.16 L409.80 379.72 L410.30 379.29 L410.80 378.85 L411.30 378.41 L411.80 377.97 L412.30 377.77 L412.80 377.71 L413.30 377.65 L413.80 377.60 L414.30 377.54 L414.80 377.48 L415.30 377.43 L415.80 377.37 L416.30 377.32 L416.80 377.26 L417.30 377.20 L417.80 377.15 L418.30 377.09 L418.80 377.03 L419.30 376.98 L419.80 376.92 L420.30 376.93 L420.80 376.99 L421.30 377.05 L421.80 377.10 L422.30 377.16 L422.80 377.22 L423.30 377.27 L423.80 377.33 L424.30 377.38 L424.80 377.44 L425.30 377.50 L425.80 377.55 L426.30 377.61 L426.80 377.67 L427.30 377.72 L427.80 377.78 L428.30 378.02 L428.80 378.39 L429.30 378.76 L429.80 379.13 L429.80 399.65 L429.30 399.80 L428.80 399.96 L428.30 400.11 L427.80 400.20 L427.30 400.19 L426.80 400.19 L426.30 400.18 L425.80 400.17 L425.30 400.17 L424.80 400.16 L424.30 400.15 L423.80 400.15 L423.30 400.14 L422.80 400.13 L422.30 400.13 L421.80 400.12 L421.30 400.12 L420.80 400.11 L420.30 400.10 L419.80 400.10 L419.30 400.11 L418.80 400.12 L418.30 400.12 L417.80 400.13 L417.30 400.13 L416.80 400.14 L416.30 400.15 L415.80 400.15 L415.30 400.16 L414.80 400.17 L414.30 400.17 L413.80 400.18 L413.30 400.18 L412.80 400.19 L412.30 400.20 L411.80 400.18 L411.30 400.11 L410.80 400.05 L410.30 399.99 L409.80 399.93 L409.30 399.86 L408.80 399.80 L408.30 399.74 L407.80 399.74 L407.30 399.84 L406.80 399.94 L406.30 400.04 L405.80 400.24 L405.30 400.59 L404.80 400.94 L404.30 401.29 L403.80 401.64 L403.30 401.99 L402.80 402.34 L402.30 402.69 L401.80 402.48 L401.30 401.43 L400.80 400.38 L400.30 399.33 L399.80 398.28 L399.30 397.23 L398.80 396.31 L398.30 395.59 L397.80 394.86 L397.30 394.13 L396.80 393.41 L396.30 392.69 L395.80 391.96 L395.30 391.24 L394.80 390.96 L394.30 391.36 L393.80 391.76 L393.30 392.16 L392.80 392.56 L392.30 392.96 L391.80 393.20 L391.30 393.20 L390.80 393.20 L390.30 393.20 L389.80 393.20 L389.30 393.20 L388.80 393.20 L388.30 393.20 L387.80 393.20 L387.30 393.20 L386.80 393.20 L386.30 393.20 L385.80 393.29 L385.30 393.52 L384.80 393.74 L384.30 393.97 L383.80 394.19 L383.30 394.42 L382.80 394.64 L382.30 394.87 L381.80 395.03 L381.30 395.11 L380.80 395.18 L380.30 395.25 L379.80 395.33 L379.30 395.41 L378.80 395.48 L378.30 395.56 L377.80 395.63 L377.30 395.70 L376.80 395.78 L376.30 395.86 L375.80 396.02 L375.30 396.33 L374.80 396.64 L374.30 396.95 L373.80 397.26 L373.30 397.57 L372.80 397.88 L372.30 398.10 L371.80 398.28 L371.30 398.45 L370.80 398.63 L370.30 398.80 L369.80 398.97 L369.30 399.15 L368.80 399.32 L368.30 399.50 L367.80 399.60 L367.30 399.60 L366.80 399.60 L366.30 399.60 L365.80 399.60 L365.30 399.60 L364.80 399.60 L364.30 399.60 L363.80 399.60 L363.30 399.60 L362.80 399.60 L362.30 399.60 L361.80 399.60 L361.30 399.60 L360.80 399.60 L360.30 399.60 L359.80 399.58 L359.30 399.52 L358.80 399.46 L358.30 399.40 L357.80 399.34 L357.30 399.29 L356.80 399.23 L356.30 399.17 L355.80 399.11 L355.30 399.05 L354.80 398.99 L354.30 398.94 L353.80 398.52 L353.30 397.59 L352.80 396.65 L352.30 395.71 L351.80 394.77 L351.30 393.84 L350.80 392.90 L350.30 391.96 L349.80 391.40 L349.30 391.40 L348.80 391.40 L348.30 391.40 L347.80 391.40 L347.30 391.40 L346.80 391.40 L346.30 391.40 L345.80 391.35 L345.30 391.21 L344.80 391.08 L344.30 390.95 L343.80 390.81 L343.30 390.68 L342.80 390.67 L342.30 390.83 L341.80 391.00 L341.30 391.17 L340.80 391.33 L340.30 391.50 L339.80 391.61 L339.30 391.62 L338.80 391.64 L338.30 391.66 L337.80 391.67 L337.30 391.69 L336.80 391.73 L336.30 391.79 L335.80 391.85 L335.30 391.92 L334.80 391.98 L334.30 392.05 L333.80 392.11 L333.30 392.18 L332.80 392.24 L332.30 392.30 L331.80 392.37 L331.30 392.43 L330.80 392.50 L330.30 392.56 L329.80 392.67 L329.30 392.86 L328.80 393.05 L328.30 393.23 L327.80 393.42 L327.30 393.60 L326.80 393.79 L326.30 393.97 L325.80 394.16 L325.30 394.35 L324.80 394.53 L324.30 394.72 L323.80 394.90 L323.30 395.09 L322.80 395.34 L322.30 395.68 L321.80 396.02 L321.30 396.36 L320.80 396.70 L320.30 397.04 L319.80 397.38 L319.30 397.72 L318.80 398.06 L318.30 398.40 L317.80 398.68 L317.30 398.86 L316.80 399.05 L316.30 399.24 L315.80 399.43 L315.30 399.61 L314.80 399.80 L314.30 399.99 L313.80 400.10 L313.30 400.10 L312.80 400.10 L312.30 400.10 L311.80 400.10 L311.30 400.10 L310.80 400.10 L310.30 400.10 L309.80 400.03 L309.30 399.84 L308.80 399.65 L308.30 399.46 L307.80 399.28 L307.30 399.09 L306.80 398.90 L306.30 398.71 L305.80 398.39 L305.30 397.87 L304.80 397.34 L304.30 396.81 L303.80 396.29 L303.30 395.76 L302.80 395.24 L302.30 394.71 L301.80 394.16 L301.30 393.56 L300.80 392.96 L300.30 392.36 L299.80 392.02 L299.30 392.08 L298.80 392.14 L298.30 392.20 L297.80 392.26 L297.30 392.36 L296.80 392.49 L296.30 392.63 L295.80 392.77 L295.30 393.39 L294.80 394.12 L294.30 394.86 L293.80 394.84 L293.30 393.69 L292.80 392.97 L292.30 392.90 L291.80 392.82 L291.30 392.75 L290.80 393.22 L290.30 394.32 L289.80 395.12 L289.30 395.92 L288.80 396.72 L288.30 397.53 L287.80 398.33 L287.30 399.14 L286.80 400.03 L286.30 400.95 L285.80 401.87 L285.30 403.42 L284.80 407.55 L284.30 411.67 L283.80 415.80 L283.30 417.88 L282.80 419.97 L282.30 422.05 L281.80 424.41 L281.30 427.18 L280.80 429.96 L280.30 432.73 L279.80 435.19 L279.30 437.15 L278.80 439.11 L278.30 440.93 L277.80 442.65 L277.30 444.37 L276.80 445.98 L276.30 447.43 L275.80 448.96 L275.30 450.61 L274.80 452.26 L274.30 453.91 L273.80 455.64 L273.30 457.49 L272.80 459.34 L272.30 461.19 L271.80 466.45 L271.30 477.32 L270.80 478.64 L270.30 478.49 L269.80 476.22 L269.30 470.77 L268.80 465.80 L268.30 461.55 L267.80 457.50 L267.30 453.75 L266.80 450.04 L266.30 446.39 L265.80 442.56 L265.30 438.46 L264.80 434.42 L264.30 430.47 L263.80 425.78 L263.30 419.98 L262.80 413.42 L262.30 405.72 L261.80 397.50 L261.30 391.97 L260.80 391.65 L260.30 391.33 L259.80 391.01 L259.30 390.69 L258.80 390.57 L258.30 390.75 L257.80 390.92 L257.30 391.10 L256.80 391.27 L256.30 391.44 L255.80 391.62 L255.30 391.80 L254.80 391.97 L254.30 392.15 L253.80 392.32 L253.30 392.50 L252.80 392.71 L252.30 392.98 L251.80 393.25 L251.30 393.53 L250.80 393.80 L250.30 394.07 L249.80 394.35 L249.30 394.62 L248.80 394.89 L248.30 395.16 L247.80 395.44 L247.30 395.73 L246.80 396.07 L246.30 396.41 L245.80 396.74 L245.30 397.08 L244.80 397.42 L244.30 397.75 L243.80 398.09 L243.30 398.43 L242.80 398.76 L242.30 399.10 L241.80 399.33 L241.30 399.41 L240.80 399.48 L240.30 399.55 L239.80 399.63 L239.30 399.71 L238.80 399.78 L238.30 399.86 L237.80 399.93 L237.30 400.00 L236.80 400.08 L236.30 400.16 L235.80 400.16 L235.30 400.08 L234.80 399.99 L234.30 399.90 L233.80 399.81 L233.30 399.73 L232.80 399.64 L232.30 399.55 L231.80 399.69 L231.30 400.15 L230.80 400.61 L230.30 401.07 L229.80 401.53 L229.30 402.00 L228.80 402.46 L228.30 402.92 L227.80 403.09 L227.30 402.81 L226.80 402.54 L226.30 402.26 L225.80 401.84 L225.30 401.17 L224.80 400.51 L224.30 399.85 L223.80 399.19 L223.30 398.52 L222.80 397.86 L222.30 397.20 L221.80 397.10 L221.30 397.84 L220.80 398.58 L220.30 399.32 L219.80 400.06Z" fill="#7e4299"/>
<line x1="226.8" y1="359.5" x2="226.8" y2="390" stroke="#7e4299" stroke-width="1.8" stroke-opacity="1"/>
<line x1="242.2" y1="363.5" x2="242.2" y2="390" stroke="#7e4299" stroke-width="1.0" stroke-opacity="1"/>
<line x1="242.0" y1="395" x2="242.0" y2="445.2" stroke="#7e4299" stroke-width="1.0" stroke-opacity="0.9"/>
<line x1="231.0" y1="400" x2="231.0" y2="419" stroke="#7e4299" stroke-width="1.0" stroke-opacity="0.9"/>
<line x1="254.8" y1="355" x2="254.8" y2="380" stroke="#7e4299" stroke-width="1.1" stroke-opacity="1"/>
<line x1="257.2" y1="360" x2="257.2" y2="380" stroke="#7e4299" stroke-width="1.1" stroke-opacity="1"/>
<line x1="259.5" y1="356.4" x2="259.5" y2="380" stroke="#7e4299" stroke-width="1.1" stroke-opacity="1"/>
<line x1="261.4" y1="351" x2="261.4" y2="380" stroke="#7e4299" stroke-width="1.2" stroke-opacity="1"/>
<line x1="271.6" y1="380" x2="271.6" y2="440" stroke="#7e4299" stroke-width="1.2" stroke-opacity="0.45"/>
<line x1="291.7" y1="292.5" x2="291.7" y2="330" stroke="#7e4299" stroke-width="1.6" stroke-opacity="1"/>
<line x1="304.7" y1="343.5" x2="304.7" y2="380" stroke="#7e4299" stroke-width="1.2" stroke-opacity="1"/>
<line x1="304.8" y1="400" x2="304.8" y2="469" stroke="#7e4299" stroke-width="1.1" stroke-opacity="0.95"/>
<line x1="339.3" y1="293.4" x2="339.3" y2="390" stroke="#7e4299" stroke-width="2.2" stroke-opacity="0.8"/>
<line x1="339.5" y1="300" x2="339.5" y2="388" stroke="#7e4299" stroke-width="1.0" stroke-opacity="1"/>
<line x1="342.4" y1="331" x2="342.4" y2="390" stroke="#7e4299" stroke-width="1.2" stroke-opacity="1"/>
<line x1="343.3" y1="400" x2="343.3" y2="431.5" stroke="#7e4299" stroke-width="1.0" stroke-opacity="0.95"/>
<line x1="347.9" y1="400" x2="347.9" y2="420" stroke="#7e4299" stroke-width="1.0" stroke-opacity="0.9"/>
<line x1="353.3" y1="400" x2="353.3" y2="482" stroke="#7e4299" stroke-width="1.2" stroke-opacity="1"/>
<line x1="354.6" y1="368" x2="354.6" y2="385" stroke="#7e4299" stroke-width="1.0" stroke-opacity="1"/>
<line x1="358.6" y1="369" x2="358.6" y2="385" stroke="#7e4299" stroke-width="1.0" stroke-opacity="1"/>
<line x1="394.3" y1="361.5" x2="394.3" y2="385" stroke="#7e4299" stroke-width="1.1" stroke-opacity="1"/>
<line x1="401.9" y1="400" x2="401.9" y2="424.6" stroke="#7e4299" stroke-width="1.8" stroke-opacity="0.5"/>
<line x1="412.0" y1="368.5" x2="412.0" y2="385" stroke="#7e4299" stroke-width="1.0" stroke-opacity="1"/>
<line x1="418" y1="368.5" x2="418" y2="385" stroke="#7e4299" stroke-width="1.0" stroke-opacity="1"/>
<line x1="424" y1="368.5" x2="424" y2="385" stroke="#7e4299" stroke-width="1.0" stroke-opacity="1"/>
<line x1="296.5" y1="350" x2="296.5" y2="370" stroke="#7e4299" stroke-width="2.0" stroke-opacity="1"/>
<path d="M290.9 330 L291.1 307 L292.3 292.5 L293.8 307 L294.6 313 L295.5 350 L290.9 350Z" fill="#7e4299"/>
<line x1="431.0" y1="339" x2="431.0" y2="482.5" stroke="#9dbbe2" stroke-width="1.6"/>
<rect x="208.5" y="293.5" width="237.0" height="189.0" fill="none" stroke="#000" stroke-width="1.05"/>
<line x1="351.90" y1="307.50" x2="366.30" y2="307.50" stroke="#0a6ab8" stroke-width="1.0"/>
<line x1="351.90" y1="316.50" x2="366.30" y2="316.50" stroke="#7e4299" stroke-width="1.0"/>
<text x="368.60" y="310.20" font-size="7.2" text-anchor="start" textLength="58.40" lengthAdjust="spacingAndGlyphs">Load Current (A)</text>
<text x="368.60" y="319.30" font-size="7.2" text-anchor="start" textLength="52.00" lengthAdjust="spacingAndGlyphs">Output Voltage</text>
<text x="368.60" y="328.30" font-size="7.2" text-anchor="start" textLength="64.20" lengthAdjust="spacingAndGlyphs">AC Component (V)</text>
<text x="205.30" y="483.80" font-size="7.8" text-anchor="end" textLength="4.40" lengthAdjust="spacingAndGlyphs">0</text>
<text x="205.30" y="472.84" font-size="7.8" text-anchor="end" textLength="10.70" lengthAdjust="spacingAndGlyphs">0,5</text>
<text x="205.30" y="460.23" font-size="7.8" text-anchor="end" textLength="2.50" lengthAdjust="spacingAndGlyphs">1</text>
<text x="205.30" y="447.62" font-size="7.8" text-anchor="end" textLength="8.80" lengthAdjust="spacingAndGlyphs">1,5</text>
<text x="205.30" y="435.01" font-size="7.8" text-anchor="end" textLength="4.40" lengthAdjust="spacingAndGlyphs">2</text>
<text x="205.30" y="422.40" font-size="7.8" text-anchor="end" textLength="10.70" lengthAdjust="spacingAndGlyphs">2,5</text>
<text x="205.30" y="409.79" font-size="7.8" text-anchor="end" textLength="4.40" lengthAdjust="spacingAndGlyphs">3</text>
<text x="205.30" y="397.18" font-size="7.8" text-anchor="end" textLength="10.70" lengthAdjust="spacingAndGlyphs">3,5</text>
<text x="205.30" y="384.57" font-size="7.8" text-anchor="end" textLength="4.40" lengthAdjust="spacingAndGlyphs">4</text>
<text x="205.30" y="371.96" font-size="7.8" text-anchor="end" textLength="10.70" lengthAdjust="spacingAndGlyphs">4,5</text>
<text x="205.30" y="359.35" font-size="7.8" text-anchor="end" textLength="4.40" lengthAdjust="spacingAndGlyphs">5</text>
<text x="205.30" y="346.74" font-size="7.8" text-anchor="end" textLength="10.70" lengthAdjust="spacingAndGlyphs">5,5</text>
<text x="205.30" y="334.13" font-size="7.8" text-anchor="end" textLength="4.40" lengthAdjust="spacingAndGlyphs">6</text>
<text x="205.30" y="321.52" font-size="7.8" text-anchor="end" textLength="10.70" lengthAdjust="spacingAndGlyphs">6,5</text>
<text x="205.30" y="308.91" font-size="7.8" text-anchor="end" textLength="4.40" lengthAdjust="spacingAndGlyphs">7</text>
<text x="205.30" y="296.30" font-size="7.8" text-anchor="end" textLength="10.70" lengthAdjust="spacingAndGlyphs">7,5</text>
<text x="449.40" y="484.00" font-size="7.8" text-anchor="start" textLength="14.70" lengthAdjust="spacingAndGlyphs">−0,5</text>
<text x="449.40" y="467.00" font-size="7.8" text-anchor="start" textLength="14.70" lengthAdjust="spacingAndGlyphs">−0,4</text>
<text x="449.40" y="448.10" font-size="7.8" text-anchor="start" textLength="14.70" lengthAdjust="spacingAndGlyphs">−0,3</text>
<text x="449.40" y="429.20" font-size="7.8" text-anchor="start" textLength="14.70" lengthAdjust="spacingAndGlyphs">−0,2</text>
<text x="449.40" y="410.30" font-size="7.8" text-anchor="start" textLength="12.80" lengthAdjust="spacingAndGlyphs">−0,1</text>
<text x="449.40" y="391.40" font-size="7.8" text-anchor="start" textLength="4.40" lengthAdjust="spacingAndGlyphs">0</text>
<text x="449.40" y="372.50" font-size="7.8" text-anchor="start" textLength="8.80" lengthAdjust="spacingAndGlyphs">0,1</text>
<text x="449.40" y="353.60" font-size="7.8" text-anchor="start" textLength="10.70" lengthAdjust="spacingAndGlyphs">0,2</text>
<text x="449.40" y="334.70" font-size="7.8" text-anchor="start" textLength="10.70" lengthAdjust="spacingAndGlyphs">0,3</text>
<text x="449.40" y="315.80" font-size="7.8" text-anchor="start" textLength="10.70" lengthAdjust="spacingAndGlyphs">0,4</text>
<text x="449.40" y="296.90" font-size="7.8" text-anchor="start" textLength="10.70" lengthAdjust="spacingAndGlyphs">0,5</text>
<text x="208.50" y="492.30" font-size="7.8" text-anchor="middle" textLength="6.50" lengthAdjust="spacingAndGlyphs">−1</text>
<text x="234.83" y="492.30" font-size="7.8" text-anchor="middle" textLength="14.70" lengthAdjust="spacingAndGlyphs">−0,5</text>
<text x="261.17" y="492.30" font-size="7.8" text-anchor="middle" textLength="4.40" lengthAdjust="spacingAndGlyphs">0</text>
<text x="287.50" y="492.30" font-size="7.8" text-anchor="middle" textLength="10.70" lengthAdjust="spacingAndGlyphs">0,5</text>
<text x="313.83" y="492.30" font-size="7.8" text-anchor="middle" textLength="2.50" lengthAdjust="spacingAndGlyphs">1</text>
<text x="340.17" y="492.30" font-size="7.8" text-anchor="middle" textLength="8.80" lengthAdjust="spacingAndGlyphs">1,5</text>
<text x="366.50" y="492.30" font-size="7.8" text-anchor="middle" textLength="4.40" lengthAdjust="spacingAndGlyphs">2</text>
<text x="392.83" y="492.30" font-size="7.8" text-anchor="middle" textLength="10.70" lengthAdjust="spacingAndGlyphs">2,5</text>
<text x="419.17" y="492.30" font-size="7.8" text-anchor="middle" textLength="4.40" lengthAdjust="spacingAndGlyphs">3</text>
<text x="445.50" y="492.30" font-size="7.8" text-anchor="middle" textLength="10.70" lengthAdjust="spacingAndGlyphs">3,5</text>
<text x="327.70" y="278.80" font-size="7.2" text-anchor="middle" textLength="107.70" lengthAdjust="spacingAndGlyphs">Step Response to Load Change</text>
<text x="327.80" y="502.00" font-size="7.4" text-anchor="middle" textLength="35.00" lengthAdjust="spacingAndGlyphs">Time (ms)</text>
<text x="327.50" y="516.40" font-size="7.4" text-anchor="middle" textLength="10.00" lengthAdjust="spacingAndGlyphs">(c)</text>
<text x="183.20" y="387.70" font-size="7.4" text-anchor="middle" textLength="58.00" lengthAdjust="spacingAndGlyphs" transform="rotate(-90 183.20 387.70)">Load Current (A)</text>
<text x="480.00" y="387.30" font-size="7.4" text-anchor="middle" textLength="116.00" lengthAdjust="spacingAndGlyphs" transform="rotate(-90 480.00 387.30)">Output Voltage AC Component (V)</text>
</svg></body></html>
